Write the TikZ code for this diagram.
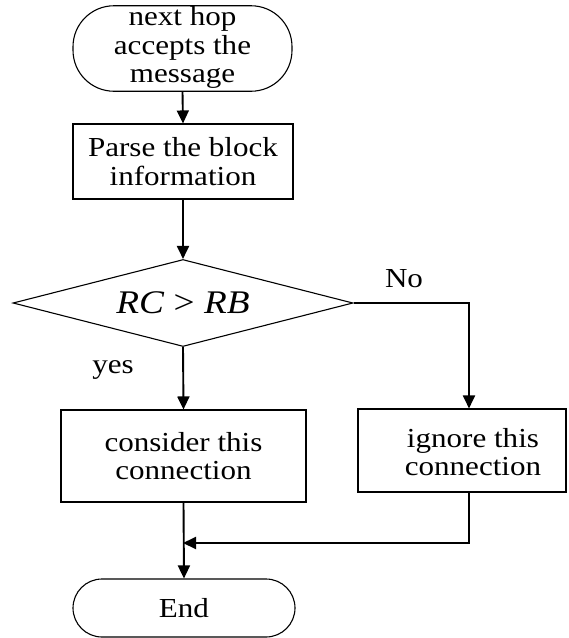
\documentclass[tikz,border=0pt]{standalone}
\usepackage{fontspec}
\setmainfont{Liberation Serif}[FakeStretch=1.13]
\usetikzlibrary{shapes.geometric,arrows.meta}
\begin{document}
\begin{tikzpicture}[x=1pt,y=-1pt,
  every node/.style={font=\fontsize{27.5}{28.5}\selectfont, align=center, inner sep=0pt},
  boxshape/.style={draw, line width=1.1pt, rectangle},
  termshape/.style={draw, line width=1.1pt, rectangle},
  decshape/.style={draw, line width=1.1pt, diamond, aspect=3.9},
  conn/.style={line width=1.9pt, -{Triangle[length=13pt,width=12pt]}},
  plain/.style={line width=1.9pt}
]
\useasboundingbox (0,0) rectangle (569,638);
\node[termshape, rounded corners=41pt, minimum width=219pt, minimum height=83pt] (start) at (182.5,48.5) {\raisebox{-3pt}{\begin{tabular}{@{}c@{}}next hop\\accepts the\\message\end{tabular}}};
\node[boxshape, minimum width=220pt, minimum height=75pt] (parse) at (183,161.5) {Parse the block\\information};
\node[decshape, minimum width=340pt, minimum height=87pt, font=\fontsize{33}{34}\selectfont] (dec) at (183,303) {\textit{RC} > \textit{RB}};
\node[boxshape, minimum width=245pt, minimum height=92pt] (consider) at (183.5,456) {consider this\\connection};
\node[boxshape, minimum width=208pt, minimum height=83pt] (ignore) at (462,450.5) {};
\node (ignoretxt) at (473,452) {ignore this\\connection};
\node[termshape, rounded corners=29pt, minimum width=222pt, minimum height=58pt] (end) at (184,608) {End};
\node (no) at (404,279) {No};
\node (yes) at (113,370) {yes};
\coordinate (corner1) at (469,303);
\coordinate (corner2) at (469,543);
\coordinate (merge) at (183,543);
\draw[conn] (start.south) -- (parse.north);
\draw[conn] (parse.south) -- (dec.north);
\draw[conn] (dec.south) -- (consider.north);
\draw[conn] (dec.east) -- (corner1) -- (corner1 |- ignore.north);
\draw[conn] (consider.south) -- (end.north);
\draw[conn] (corner1 |- ignore.south) -- (corner2) -- (merge);
\end{tikzpicture}
\end{document}
